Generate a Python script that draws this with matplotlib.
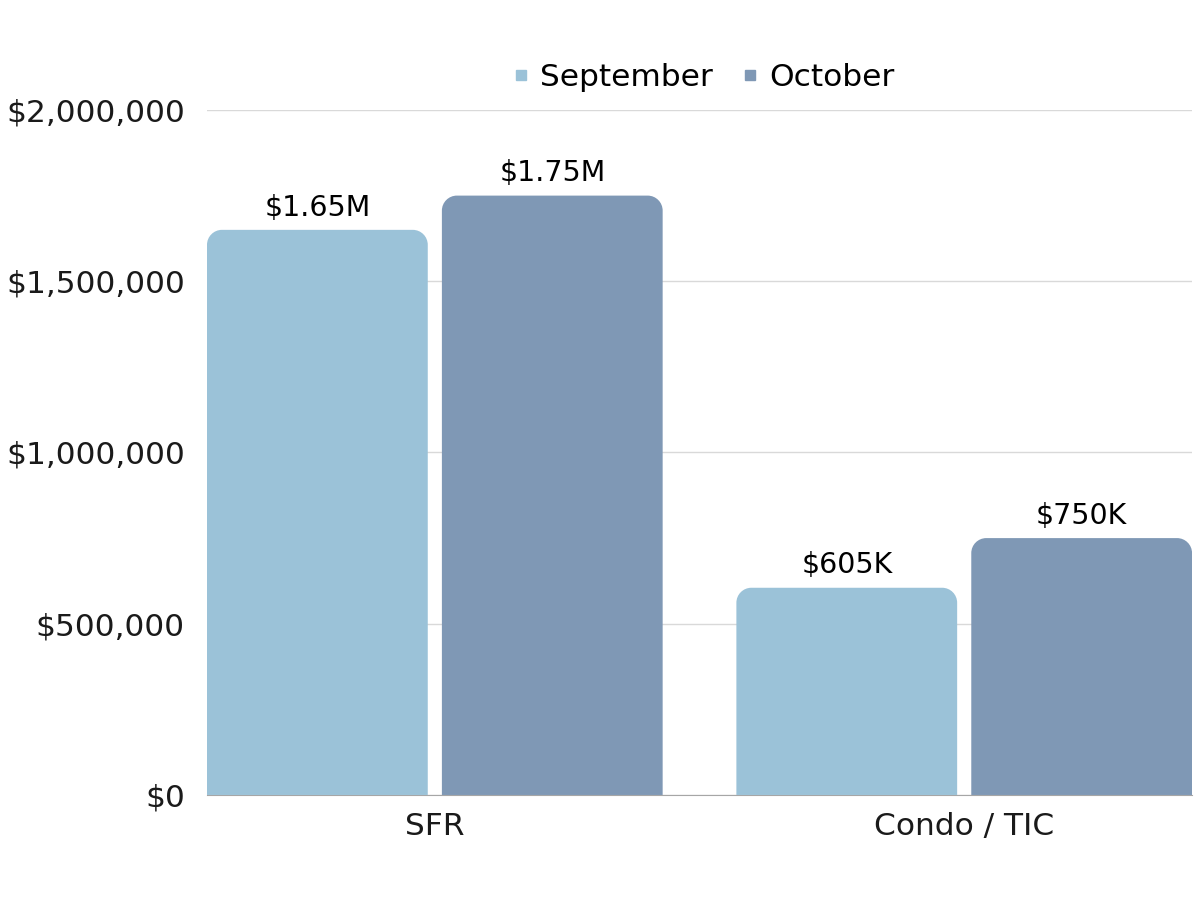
import matplotlib
matplotlib.use("Agg")
import matplotlib.pyplot as plt
from matplotlib.path import Path
from matplotlib.patches import PathPatch
from matplotlib.lines import Line2D
from matplotlib.ticker import FuncFormatter

# ── Datos ────────────────────────────────────────────────────────────────
categorias = ["SFR", "Condo / TIC"]
series = ["September", "October"]
valores_sep = [1650000, 605000]
valores_oct = [1750000, 750000]
etiquetas_sep = ["$1.65M", "$605K"]
etiquetas_oct = ["$1.75M", "$750K"]
yticks = [0, 500000, 1000000, 1500000, 2000000]

colores = ["#9BC2D8", "#7F98B5"]
plt.rcParams["font.family"] = ["DejaVu Sans"]


def barra_redondeada(ax, xc, ancho, alto, color, rx, ry):
    """Barra con las esquinas superiores redondeadas."""
    x0, x1 = xc - ancho / 2, xc + ancho / 2
    k = 0.5523
    verts = [
        (x0, 0), (x0, alto - ry),
        (x0, alto - ry + k * ry), (x0 + rx - k * rx, alto), (x0 + rx, alto),
        (x1 - rx, alto),
        (x1 - rx + k * rx, alto), (x1, alto - ry + k * ry), (x1, alto - ry),
        (x1, 0), (x0, 0),
    ]
    codes = [Path.MOVETO, Path.LINETO,
             Path.CURVE4, Path.CURVE4, Path.CURVE4,
             Path.LINETO,
             Path.CURVE4, Path.CURVE4, Path.CURVE4,
             Path.LINETO, Path.CLOSEPOLY]
    ax.add_patch(PathPatch(Path(verts, codes), facecolor=color,
                           edgecolor="none", zorder=3))


fig = plt.figure(figsize=(12, 9), dpi=100)
ax = fig.add_axes([0.1725, 0.1167, 0.8205, 0.7611])

ancho = 1.0
centros = [1.032, 3.43]
desp = 0.532
ymax = 2000000
# radio de las esquinas en unidades de datos (~15 px)
rx = 15 / 221
ry = 15 * ymax / 685

for i, c in enumerate(centros):
    for j, (vals, etqs) in enumerate([(valores_sep, etiquetas_sep),
                                      (valores_oct, etiquetas_oct)]):
        xc = c - desp if j == 0 else c + desp
        barra_redondeada(ax, xc, ancho, vals[i], colores[j], rx, ry)
        ax.annotate(etqs[i], (xc, vals[i]), xytext=(0, 6),
                    textcoords="offset points", ha="center", va="bottom",
                    fontsize=20.5, color="black")

ax.set_xlim(0, 4.46)
ax.set_ylim(0, ymax)
ax.set_yticks(yticks)
ax.yaxis.set_major_formatter(FuncFormatter(lambda v, p: f"${v:,.0f}"))
ax.set_xticks(centros)
ax.set_xticklabels(categorias)
ax.tick_params(axis="both", length=0, labelsize=22.5, colors="#1a1a1a")
ax.tick_params(axis="y", pad=16)
ax.tick_params(axis="x", pad=12)
ax.grid(axis="y", color="#d9d9d9", linewidth=1, zorder=0)
ax.set_axisbelow(True)
for s in ["top", "right", "left"]:
    ax.spines[s].set_visible(False)
ax.spines["bottom"].set_color("#a6a6a6")

handles = [Line2D([], [], marker="s", linestyle="none", markersize=7,
                  color=colores[k]) for k in range(2)]
fig.legend(handles, series, loc="center", bbox_to_anchor=(0.582, 0.914),
           ncol=2, frameon=False, fontsize=22.5, handletextpad=0.0,
           columnspacing=0.6, handlelength=1.2)

fig.savefig("out.png", dpi=100)
